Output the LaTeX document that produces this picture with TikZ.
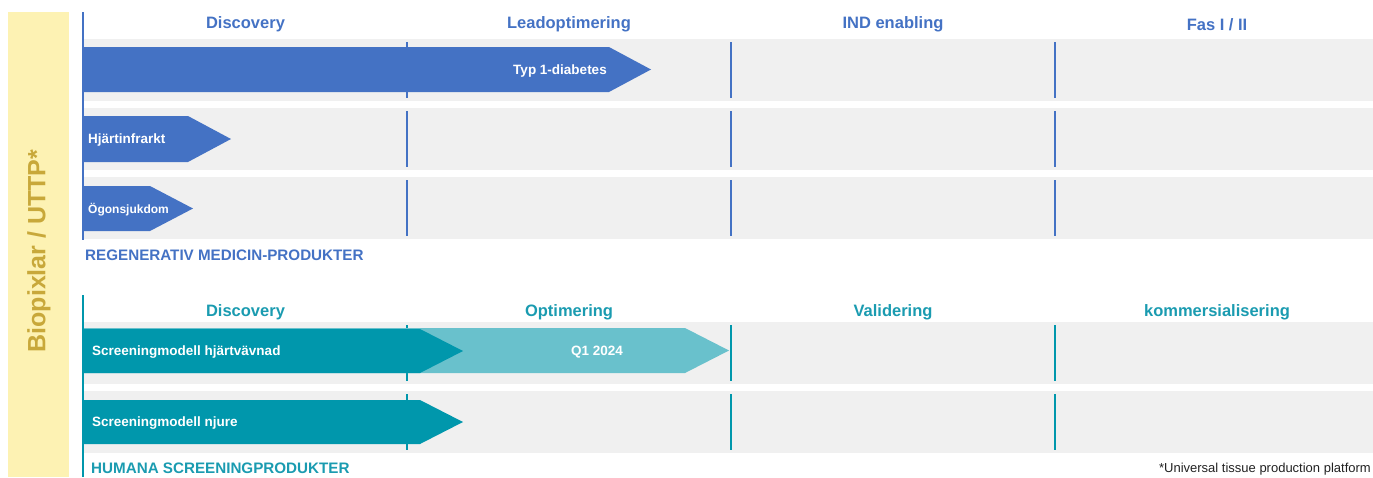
\documentclass[tikz,border=0pt]{standalone}
\usepackage{fontspec}
\setmainfont{Liberation Sans}
\definecolor{rmblue}{HTML}{4472C4}
\definecolor{tealD}{HTML}{0097AC}
\definecolor{tealL}{HTML}{69C1CC}
\definecolor{tealT}{HTML}{1A9BB0}
\definecolor{rowgray}{HTML}{F0F0F0}
\definecolor{sideY}{HTML}{FDF2B3}
\definecolor{goldT}{HTML}{C8A83A}
\definecolor{noteT}{HTML}{222222}
\tikzset{
  hdr/.style={inner sep=0pt, font=\fontsize{16.5}{18}\selectfont\bfseries},
  sect/.style={inner sep=0pt, anchor=west, font=\fontsize{15.2}{17}\selectfont\bfseries},
  albl/.style={inner sep=0pt, text=white, font=\fontsize{13.5}{15}\selectfont\bfseries},
  divider/.style={line width=1.2pt},
}
\begin{document}
\begin{tikzpicture}[x=1pt,y=-1pt]
\useasboundingbox (0,0) rectangle (1373,477);
% sidebar
\fill[sideY] (8,12) rectangle (69,477);
\node[rotate=90, text=goldT, inner sep=0pt, font=\fontsize{25}{28}\selectfont\bfseries] (side) at (39,251) {Biopixlar / UTTP*};
% ---------- top section ----------
\foreach \y in {39,108,177} {
  \fill[rowgray] (84,\y) rectangle (1373,\y+62);
  \foreach \x in {407,731,1055} \draw[rmblue, divider] (\x,\y+3) -- (\x,\y+59);
}
\draw[rmblue, line width=1.4pt] (83,12) -- (83,240);
\node[hdr, text=rmblue] (h1) at (245.5,24.5) {Discovery};
\node[hdr, text=rmblue] (h2) at (569,24.5) {Leadoptimering};
\node[hdr, text=rmblue] (h3) at (893,24.5) {IND enabling};
\node[hdr, text=rmblue] (h4) at (1217,24.5) {Fas I / II};
\fill[rmblue] (84,47) -- (609,47) -- (651,69.5) -- (609,92) -- (84,92) -- cycle;
\node[albl] (a1) at (560,71) {Typ 1-diabetes};
\fill[rmblue] (84,116) -- (188,116) -- (231,139) -- (188,162) -- (84,162) -- cycle;
\node[albl, anchor=west] (a2) at (88,140.5) {Hjärtinfrarkt};
\fill[rmblue] (84,186) -- (150,186) -- (193,208.5) -- (150,231) -- (84,231) -- cycle;
\node[albl, anchor=west, font=\fontsize{12}{14}\selectfont\bfseries] (a3) at (88,210) {Ögonsjukdom};
\node[sect, text=rmblue] (s1) at (85,255) {REGENERATIV MEDICIN-PRODUKTER};
% ---------- bottom section ----------
\foreach \y in {322,391} {
  \fill[rowgray] (84,\y) rectangle (1373,\y+62);
  \foreach \x in {407,731,1055} \draw[tealD, divider] (\x,\y+3) -- (\x,\y+59);
}
\draw[tealD, line width=1.4pt] (83,295) -- (83,477);
\node[hdr, text=tealT] (g1) at (245.5,312.5) {Discovery};
\node[hdr, text=tealT] (g2) at (569,312.5) {Optimering};
\node[hdr, text=tealT] (g3) at (893,312.5) {Validering};
\node[hdr, text=tealT] (g4) at (1217,312.5) {kommersialisering};
\fill[tealL] (84,328) -- (685,328) -- (729,350.5) -- (685,373) -- (84,373) -- cycle;
\fill[tealD] (84,329) -- (420,329) -- (463,351) -- (420,373) -- (84,373) -- cycle;
\node[albl, anchor=west] (b1) at (92,352.5) {Screeningmodell hjärtvävnad};
\node[albl] (b2) at (597,352) {Q1 2024};
\fill[tealD] (84,400) -- (420,400) -- (463,422) -- (420,444) -- (84,444) -- cycle;
\node[albl, anchor=west] (b3) at (92,423.5) {Screeningmodell njure};
\node[sect, text=tealT] (s2) at (91,468) {HUMANA SCREENINGPRODUKTER};
\node[inner sep=0pt, anchor=east, text=noteT, font=\fontsize{13}{15}\selectfont] (note) at (1371,469) {*Universal tissue production platform};
\end{tikzpicture}
\end{document}
